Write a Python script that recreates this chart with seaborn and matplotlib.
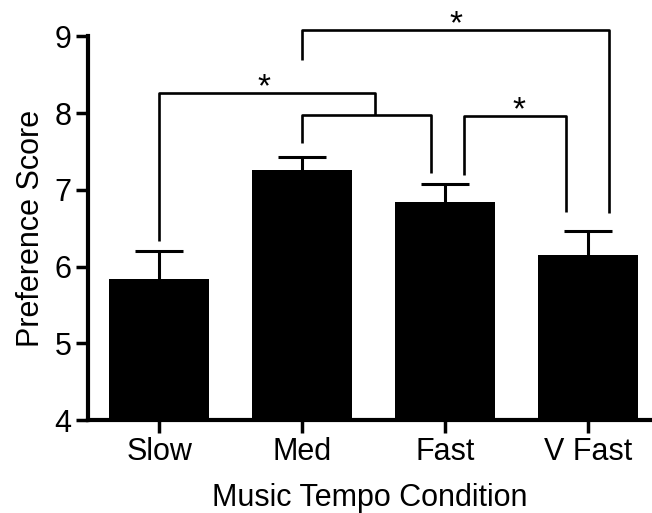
import matplotlib
matplotlib.use("Agg")
import matplotlib.pyplot as plt
import seaborn as sns
import pandas as pd

# Data
conditions = ["Slow", "Med", "Fast", "V Fast"]
means = [5.84, 7.26, 6.84, 6.15]
sems = [0.36, 0.17, 0.24, 0.31]

# Significance brackets: (x_left, x_right, y_top, left_leg_bottom, right_leg_bottom, star_x)
brackets = [
    (1.00, 3.15, 9.08, 8.69, 6.70, 2.08),   # Med vs V Fast
    (0.00, 1.51, 8.26, 6.33, 7.98, 0.73),   # Slow vs Med/Fast
    (1.00, 1.90, 7.98, 7.61, 7.22, None),   # Med-Fast sub bracket
    (2.13, 2.85, 7.96, 7.19, 6.71, 2.52),   # Fast vs V Fast
]

sns.set_theme(style="ticks")
plt.rcParams["font.family"] = ["Liberation Sans", "DejaVu Sans"]

df = pd.DataFrame({"Condition": conditions, "Score": means})

fig = plt.figure(figsize=(6.52, 5.13), dpi=100)
ax = fig.add_axes([0.135, 0.181, 0.865, 0.748])

sns.barplot(data=df, x="Condition", y="Score", color="black", width=0.7,
            saturation=1, errorbar=None, ax=ax, edgecolor="black", linewidth=0)

# upper error bars only
_, caps, _ = ax.errorbar(range(len(conditions)), means, yerr=[[0] * len(sems), sems],
                         fmt="none", ecolor="black", elinewidth=2.2, capsize=17,
                         capthick=2.2, zorder=3)
if len(caps) == 2:
    caps[0].set_visible(False)

lw = 1.9
for xl, xr, yt, bl, br, sx in brackets:
    ax.plot([xl, xl, xr, xr], [bl, yt, yt, br], color="black", lw=lw,
            clip_on=False, solid_capstyle="butt", zorder=4)
    if sx is not None:
        ax.text(sx, yt - 0.035, "*", ha="center", va="baseline", fontsize=24,
                color="black", clip_on=False)

ax.set_ylim(4, 9)
ax.set_xlim(-0.5, 3.45)
ax.set_yticks([4, 5, 6, 7, 8, 9])

for side in ["top", "right"]:
    ax.spines[side].set_visible(False)
for side in ["left", "bottom"]:
    ax.spines[side].set_linewidth(3)
    ax.spines[side].set_color("black")

ax.tick_params(axis="both", direction="out", length=9, width=2.5,
               color="black", labelsize=22, pad=3, labelcolor="black")

ax.set_xlabel("Music Tempo Condition", fontsize=22, labelpad=12, color="black")
ax.set_ylabel("Preference Score", fontsize=22, labelpad=6, color="black")

fig.savefig("out.png", dpi=100)
